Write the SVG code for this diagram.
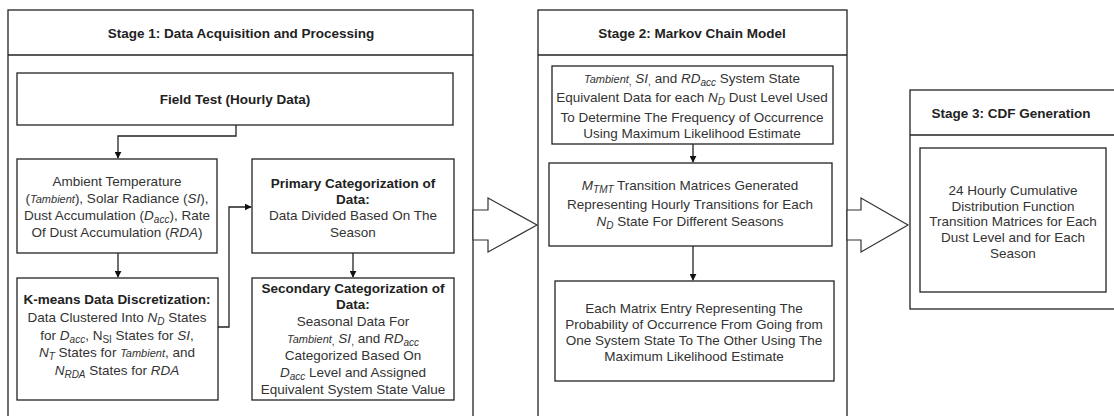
<svg xmlns="http://www.w3.org/2000/svg" width="1114" height="416" viewBox="0 0 1114 416">
<style>
text{font-family:"Liberation Sans",Arial,sans-serif;font-size:13.5px;fill:#333;text-anchor:middle}
.b{font-weight:bold;fill:#222}
.i{font-style:italic}
.s{font-size:10px}
.ts{font-size:11px;font-style:italic}
.box{fill:#fff;stroke:#222;stroke-width:1.3}
.ln{fill:none;stroke:#222;stroke-width:1.3}
.big{fill:#fff;stroke:#333;stroke-width:1.2}
</style>
<defs>
<marker id="ah" viewBox="0 0 10 10" refX="9" refY="5" markerWidth="7" markerHeight="7" orient="auto" markerUnits="userSpaceOnUse">
<path d="M0,0 L10,5 L0,10 z" fill="#111"/>
</marker>
</defs>
<rect width="1114" height="416" fill="#fff"/>

<g id="stage1">
<rect class="box" x="8" y="10" width="465" height="420"/>
<line class="ln" x1="8" y1="55" x2="473" y2="55"/>
<text class="b" x="241" y="38">Stage 1: Data Acquisition and Processing</text>
</g>
<g id="stage2">
<rect class="box" x="538" y="10" width="309" height="420"/>
<line class="ln" x1="538" y1="55" x2="847" y2="55"/>
<text class="b" x="692" y="38">Stage 2: Markov Chain Model</text>
</g>
<g id="stage3">
<rect class="box" x="910" y="90" width="215" height="219"/>
<line class="ln" x1="910" y1="135" x2="1125" y2="135"/>
<text class="b" x="1011" y="118">Stage 3: CDF Generation</text>
</g>

<g id="field-test">
<rect class="box" x="17" y="73" width="436" height="52"/>
<text class="b" x="235" y="104">Field Test (Hourly Data)</text>
</g>

<g id="ambient">
<rect class="box" x="17" y="159" width="200" height="94"/>
<text x="117" y="186">Ambient Temperature</text>
<text x="117" y="203">(<tspan class="ts">Tambient</tspan>), Solar Radiance (<tspan class="i">SI</tspan>),</text>
<text x="117" y="220">Dust Accumulation (<tspan class="i">D</tspan><tspan class="s i" dy="3">acc</tspan><tspan dy="-3">), Rate</tspan></text>
<text x="117" y="237">Of Dust Accumulation (<tspan class="i">RDA</tspan>)</text>
</g>

<g id="kmeans">
<rect class="box" x="17" y="278" width="201" height="122"/>
<text class="b" x="117" y="304">K-means Data Discretization:</text>
<text x="117" y="322">Data Clustered Into <tspan class="i">N</tspan><tspan class="s i" dy="3">D</tspan><tspan dy="-3"> States</tspan></text>
<text x="117" y="340">for <tspan class="i">D</tspan><tspan class="s i" dy="3">acc</tspan><tspan dy="-3">, N</tspan><tspan class="s" dy="3">SI</tspan><tspan dy="-3"> States for </tspan><tspan class="i">SI</tspan>,</text>
<text x="117" y="357"><tspan class="i">N</tspan><tspan class="s i" dy="3">T</tspan><tspan dy="-3"> States for </tspan><tspan class="ts">Tambient</tspan>, and</text>
<text x="117" y="375"><tspan class="i">N</tspan><tspan class="s i" dy="3">RDA</tspan><tspan dy="-3"> States for </tspan><tspan class="i">RDA</tspan></text>
</g>

<g id="primary">
<rect class="box" x="252" y="159" width="202" height="94"/>
<text class="b" x="353" y="188">Primary Categorization of</text>
<text class="b" x="353" y="204">Data:</text>
<text x="353" y="220">Data Divided Based On The</text>
<text x="353" y="237">Season</text>
</g>

<g id="secondary">
<rect class="box" x="252" y="278" width="202" height="122"/>
<text class="b" x="353" y="293">Secondary Categorization of</text>
<text class="b" x="353" y="309">Data:</text>
<text x="353" y="326">Seasonal Data For</text>
<text x="353" y="343"><tspan class="ts">Tambient</tspan><tspan class="s" dy="2">,</tspan><tspan class="i" dy="-2"> SI</tspan><tspan class="s" dy="2">,</tspan><tspan dy="-2"> and </tspan><tspan class="i">RD</tspan><tspan class="s i" dy="3">acc</tspan></text>
<text x="353" y="360">Categorized Based On</text>
<text x="353" y="377"><tspan class="i">D</tspan><tspan class="s i" dy="3">acc</tspan><tspan dy="-3"> Level and Assigned</tspan></text>
<text x="353" y="394">Equivalent System State Value</text>
</g>

<g id="state-data">
<rect class="box" x="552" y="66" width="281" height="78"/>
<text x="692" y="83"><tspan class="ts">Tambient</tspan><tspan class="s" dy="2">,</tspan><tspan class="i" dy="-2"> SI</tspan><tspan class="s" dy="2">,</tspan><tspan dy="-2"> and </tspan><tspan class="i">RD</tspan><tspan class="s i" dy="3">acc</tspan><tspan dy="-3"> System State</tspan></text>
<text x="692" y="102">Equivalent Data for each <tspan class="i">N</tspan><tspan class="s i" dy="3">D</tspan><tspan dy="-3"> Dust Level Used</tspan></text>
<text x="692" y="122">To Determine The Frequency of Occurrence</text>
<text x="692" y="138">Using Maximum Likelihood Estimate</text>
</g>

<g id="transition-matrices">
<rect class="box" x="549" y="163" width="283" height="83"/>
<text x="690" y="190"><tspan class="i">M</tspan><tspan class="s i" dy="3">TMT</tspan><tspan dy="-3"> Transition Matrices Generated</tspan></text>
<text x="690" y="209">Representing Hourly Transitions for Each</text>
<text x="690" y="226"><tspan class="i">N</tspan><tspan class="s i" dy="3">D</tspan><tspan dy="-3"> State For Different Seasons</tspan></text>
</g>

<g id="matrix-entry">
<rect class="box" x="555" y="281" width="279" height="100"/>
<text x="694" y="313">Each Matrix Entry Representing The</text>
<text x="694" y="329">Probability of Occurrence From Going from</text>
<text x="694" y="345">One System State To The Other Using The</text>
<text x="694" y="361">Maximum Likelihood Estimate</text>
</g>

<g id="cdf">
<rect class="box" x="920" y="148" width="186" height="144"/>
<text x="1013" y="195">24 Hourly Cumulative</text>
<text x="1013" y="211">Distribution Function</text>
<text x="1013" y="226">Transition Matrices for Each</text>
<text x="1013" y="242">Dust Level and for Each</text>
<text x="1013" y="258">Season</text>
</g>

<g id="connectors">
<polyline class="ln" points="236,125 236,136 118,136 118,158" marker-end="url(#ah)"/>
<line class="ln" x1="118" y1="253" x2="118" y2="277" marker-end="url(#ah)"/>
<polyline class="ln" points="218,327 229,327 229,207 251,207" marker-end="url(#ah)"/>
<line class="ln" x1="353" y1="253" x2="353" y2="277" marker-end="url(#ah)"/>
<line class="ln" x1="693" y1="144" x2="693" y2="162" marker-end="url(#ah)"/>
<line class="ln" x1="693" y1="246" x2="693" y2="280" marker-end="url(#ah)"/>
<polygon class="big" points="473,210 488,210 488,198 537,225 488,252 488,240 473,240"/>
<polygon class="big" points="847,210 861,210 861,198 908,225 861,252 861,240 847,240"/>
</g>
</svg>
